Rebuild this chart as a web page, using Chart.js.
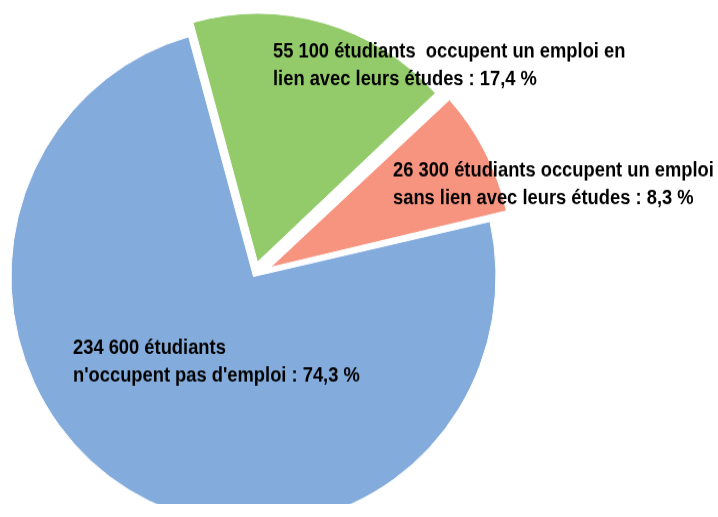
<!DOCTYPE html>
<html>
<head>
<meta charset="utf-8">
<script src="https://cdn.jsdelivr.net/npm/chart.js@4/dist/chart.umd.min.js"></script>
<style>
  html, body { margin: 0; padding: 0; background: #fff; overflow: hidden; }
  #wrap { width: 718px; height: 504px; transform: scaleY(1.0258); transform-origin: 0 0; }
</style>
</head>
<body>
<div id="wrap"><canvas id="c" width="718" height="504"></canvas></div>
<script>
// ---- data ----
const categories = [
  "occupent un emploi en lien avec leurs études",
  "occupent un emploi sans lien avec leurs études",
  "n'occupent pas d'emploi"
];
const students = [55100, 26300, 234600];
const percentLabels = ["17,4 %", "8,3 %", "74,3 %"];
const labelLines = [
  ["55 100 étudiants  occupent un emploi en", "lien avec leurs études : 17,4 %"],
  ["26 300 étudiants occupent un emploi", "sans lien avec leurs études : 8,3 %"],
  ["234 600 étudiants", "n'occupent pas d'emploi : 74,3 %"]
];

// ---- styling / layout ----
const colors = ["#93CB6B", "#F79480", "#83ABDB"];
const offsets = [58, 76, 0];   // Chart.js v4 moves a slice by offset/4
const pieRadius = 242.5;
const labelAnchors = [
  { x: 273, y: 55.6 },
  { x: 393, y: 172.3 },
  { x: 73, y: 345.1 }
];
const lineGap = 27;

// keep every exploded slice at the same radius as the others
const equalRadiusPlugin = {
  id: 'equalRadius',
  beforeDatasetsDraw(chart) {
    const meta = chart.getDatasetMeta(0);
    meta.data.forEach((arc) => {
      const off = (arc.options.offset || 0) / 4;
      const fix = 1 - Math.sin(Math.min(Math.PI, arc.circumference || 0));
      arc.outerRadius = pieRadius - off * fix;
    });
  }
};

const labelPlugin = {
  id: 'sliceLabels',
  afterDraw(chart) {
    const ctx = chart.ctx;
    ctx.save();
    ctx.font = 'bold 19.5px "Liberation Sans", Arial, sans-serif';
    ctx.fillStyle = '#000';
    ctx.textBaseline = 'alphabetic';
    ctx.textAlign = 'left';
    labelLines.forEach((lines, i) => {
      lines.forEach((line, j) => {
        ctx.save();
        ctx.translate(labelAnchors[i].x, labelAnchors[i].y + j * lineGap);
        ctx.scale(0.94, 1);
        ctx.fillText(line, 0, 0);
        ctx.restore();
      });
    });
    ctx.restore();
  }
};

new Chart(document.getElementById('c'), {
  type: 'pie',
  data: {
    labels: categories,
    datasets: [{
      data: students,
      backgroundColor: colors,
      borderColor: '#ffffff',
      borderWidth: 1,
      offset: offsets
    }]
  },
  options: {
    responsive: false,
    animation: false,
    rotation: -15.5,
    radius: pieRadius,
    layout: { padding: { left: 0, right: 211, top: 35, bottom: 0 } },
    plugins: {
      legend: { display: false },
      tooltip: { enabled: false }
    }
  },
  plugins: [equalRadiusPlugin, labelPlugin]
});
</script>
</body>
</html>
